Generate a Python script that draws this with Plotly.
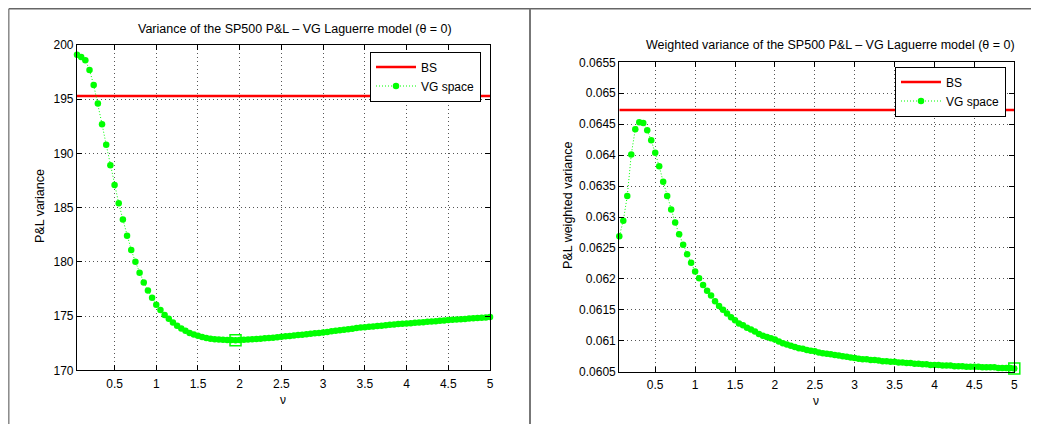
import numpy as np
import plotly.graph_objects as go

# nu grid 0.05:0.05:5
nu = np.round(np.arange(1, 101) * 0.05, 2)

var_bs = 195.3
var_vg = [199.1, 198.9, 198.6, 197.7, 196.3, 194.6, 192.7, 190.8, 188.9, 187.1,
          185.4, 183.9, 182.4, 181.1, 180.0, 179.0, 178.1, 177.35, 176.7, 176.05,
          175.55, 175.1, 174.75, 174.4, 174.1, 173.85, 173.65, 173.45, 173.3, 173.18,
          173.07, 172.98, 172.91, 172.86, 172.83, 172.81, 172.8, 172.79, 172.78, 172.79,
          172.81, 172.83, 172.86, 172.89, 172.92, 172.95, 172.98, 173.01, 173.05, 173.09,
          173.13, 173.17, 173.21, 173.25, 173.29, 173.33, 173.37, 173.41, 173.45, 173.49,
          173.54, 173.59, 173.64, 173.69, 173.74, 173.79, 173.84, 173.89, 173.94, 173.98,
          174.02, 174.05, 174.09, 174.12, 174.16, 174.19, 174.22, 174.26, 174.29, 174.32,
          174.35, 174.38, 174.41, 174.44, 174.47, 174.5, 174.53, 174.56, 174.6, 174.63,
          174.66, 174.68, 174.71, 174.74, 174.77, 174.8, 174.83, 174.85, 174.88, 174.91]

wvar_bs = 0.06473
wvar_vg = [0.06269, 0.06294, 0.06334, 0.06401, 0.06442, 0.06453, 0.06452, 0.06440, 0.06424, 0.06404,
           0.06382, 0.06357, 0.06334, 0.06312, 0.06291, 0.06272, 0.06255, 0.06240, 0.06226, 0.06212,
           0.06201, 0.06190, 0.06181, 0.06173, 0.06164, 0.06156, 0.06150, 0.06144, 0.06138, 0.06133,
           0.06128, 0.06125, 0.06121, 0.06118, 0.06115, 0.06111, 0.06108, 0.06106, 0.06104, 0.06102,
           0.06099, 0.06096, 0.06094, 0.06092, 0.06090, 0.06088, 0.06087, 0.06085, 0.06084, 0.06083,
           0.06081, 0.06080, 0.06079, 0.06078, 0.06077, 0.06076, 0.06075, 0.06074, 0.06073, 0.06072,
           0.06071, 0.06070, 0.06070, 0.06069, 0.06069, 0.06068, 0.06067, 0.06067, 0.06066, 0.06066,
           0.06065, 0.06065, 0.06064, 0.06064, 0.06063, 0.06063, 0.06062, 0.06062, 0.06061, 0.06061,
           0.06061, 0.06060, 0.06060, 0.06060, 0.06059, 0.06059, 0.06059, 0.06058, 0.06058, 0.06058,
           0.06058, 0.06057, 0.06057, 0.06057, 0.06057, 0.06056, 0.06056, 0.06056, 0.06056, 0.06055]

x_ticks = [0.5, 1, 1.5, 2, 2.5, 3, 3.5, 4, 4.5, 5]
x_ticktext = ["0.5", "1", "1.5", "2", "2.5", "3", "3.5", "4", "4.5", "5"]
y1_ticks = [170, 175, 180, 185, 190, 195, 200]
y2_ticks = [0.0605, 0.061, 0.0615, 0.062, 0.0625, 0.063, 0.0635, 0.064, 0.0645, 0.065, 0.0655]
y2_ticktext = ["0.0605", "0.061", "0.0615", "0.062", "0.0625", "0.063", "0.0635",
               "0.064", "0.0645", "0.065", "0.0655"]

title1 = "Variance of the SP500 P&L \u2013 VG Laguerre model (\u03b8 = 0)"
title2 = "Weighted variance of the SP500 P&L \u2013 VG Laguerre model (\u03b8 = 0)"

# the page puts the figure 8px in from the top-left corner
OFF = 8
W, H = 1039 - OFF, 424 - OFF
FONT = "Liberation Sans, Arial, sans-serif"
GREEN = "#00ff00"
RED = "#ff0000"


def px(x):
    return (x - OFF) / W


def py(y):
    return 1 - (y - OFF) / H


fig = go.Figure()

for i, (vals, bs, leg) in enumerate([(var_vg, var_bs, "legend"), (wvar_vg, wvar_bs, "legend2")]):
    xa = "x" if i == 0 else "x2"
    ya = "y" if i == 0 else "y2"
    fig.add_trace(go.Scatter(x=[nu[0], nu[-1]], y=[bs, bs], mode="lines", name="BS",
                             line=dict(color=RED, width=2.5), xaxis=xa, yaxis=ya, legend=leg))
    fig.add_trace(go.Scatter(x=nu, y=vals, mode="lines+markers", name="VG space",
                             line=dict(color=GREEN, width=1, dash="1px,2px"),
                             marker=dict(color=GREEN, size=6.5), cliponaxis=False,
                             xaxis=xa, yaxis=ya, legend=leg))
    k = int(np.argmin(vals))
    fig.add_trace(go.Scatter(x=[nu[k]], y=[vals[k]], mode="markers", showlegend=False,
                             marker=dict(symbol="square-open", color=GREEN, size=11,
                                         line=dict(width=1.5, color=GREEN)),
                             cliponaxis=False, xaxis=xa, yaxis=ya))

common = dict(showline=True, linecolor="black", linewidth=1.2, mirror="ticks",
              ticks="inside", ticklen=5, tickcolor="black",
              showgrid=True, gridcolor="#555555", gridwidth=1, griddash="1px,3px",
              zeroline=False, tickfont=dict(family=FONT, size=12, color="black"),
              automargin=False)

fig.update_layout(
    width=W, height=H,
    margin=dict(l=0, r=0, t=0, b=0),
    paper_bgcolor="white", plot_bgcolor="white",
    font=dict(family=FONT, size=12, color="black"),
    xaxis=dict(domain=[px(77), px(490)], range=[0.05, 5], tickvals=x_ticks,
               ticktext=x_ticktext, anchor="y", ticklabelstandoff=2, **common),
    yaxis=dict(domain=[py(370.3), py(45)], range=[170, 200], tickvals=y1_ticks,
               anchor="x", **common),
    xaxis2=dict(domain=[px(619.3), px(1014.3)], range=[0.05, 5], tickvals=x_ticks,
                ticktext=x_ticktext, anchor="y2", ticklabelstandoff=2, **common),
    yaxis2=dict(domain=[py(371.7), py(62.3)], range=[0.0605, 0.0655], tickvals=y2_ticks,
                ticktext=y2_ticktext, anchor="x2", **common),
    legend=dict(x=px(481), y=py(51.5), xanchor="right", yanchor="top",
                bordercolor="black", borderwidth=1, bgcolor="white",
                font=dict(family=FONT, size=12), tracegroupgap=0, itemwidth=40),
    legend2=dict(x=px(1006), y=py(66.5), xanchor="right", yanchor="top",
                 bordercolor="black", borderwidth=1, bgcolor="white",
                 font=dict(family=FONT, size=12), tracegroupgap=0, itemwidth=40),
)

ann = [
    (title1, 295, 29, 0, 12.5),
    (title2, 830, 45, 0, 12.5),
    ("P&L variance", 40, 206, -90, 12.5),
    ("P&L weighted variance", 568, 206, -90, 12.5),
    ("\u03bd", 283, 400, 0, 12),
    ("\u03bd", 816, 401, 0, 12),
]
for text, x, y, ang, fs in ann:
    fig.add_annotation(text=text, x=px(x), y=py(y), xref="paper", yref="paper",
                       showarrow=False, textangle=ang, xanchor="center", yanchor="middle",
                       font=dict(family=FONT, size=fs, color="black"))

# frame lines of the two panels
for x0, y0, x1, y1, c, w in [(8.8, 8.8, 8.8, 424, "#888888", 1.5),
                             (8.8, 8.8, 1039, 8.8, "#666666", 1.5),
                             (530, 8.8, 530, 424, "#777777", 2)]:
    fig.add_shape(type="line", xref="paper", yref="paper",
                  x0=px(x0), y0=py(y0), x1=px(x1), y1=py(y1),
                  line=dict(color=c, width=w))

fig.write_html("out.html")
